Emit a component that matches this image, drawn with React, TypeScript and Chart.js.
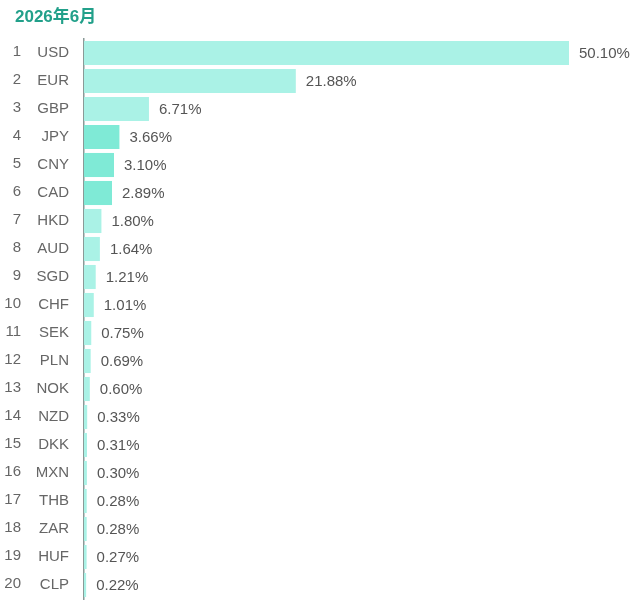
import React, { useEffect, useRef } from "react";
import { Chart, registerables } from "chart.js";

Chart.register(...registerables);

const titleText = "2026年6月";
const ranks = ["1","2","3","4","5","6","7","8","9","10","11","12","13","14","15","16","17","18","19","20"];
const currencies = ["USD","EUR","GBP","JPY","CNY","CAD","HKD","AUD","SGD","CHF","SEK","PLN","NOK","NZD","DKK","MXN","THB","ZAR","HUF","CLP"];
const shares = [50.10,21.88,6.71,3.66,3.10,2.89,1.80,1.64,1.21,1.01,0.75,0.69,0.60,0.33,0.31,0.30,0.28,0.28,0.27,0.22];
const highlighted = ["JPY","CNY","CAD"];

const FONT = "'Liberation Sans', Arial, 'Noto Sans CJK SC', sans-serif";

export default function App() {
  const ref = useRef<HTMLCanvasElement | null>(null);
  useEffect(() => {
    document.body.style.margin = "0";
    const canvas = ref.current;
    if (!canvas) return;
    const overlay = {
      id: "overlay",
      afterDatasetsDraw(chart: any) {
        const ctx = chart.ctx;
        const meta = chart.getDatasetMeta(0);
        const yScale = chart.scales.y;
        ctx.save();
        ctx.font = `15px ${FONT}`;
        ctx.fillStyle = "#555555";
        ctx.textBaseline = "middle";
        ctx.textAlign = "left";
        meta.data.forEach((bar: any, i: number) => {
          ctx.fillText(shares[i].toFixed(2) + "%", bar.x + 10, bar.y + 1);
        });
        ctx.fillStyle = "#666666";
        ctx.textAlign = "right";
        ranks.forEach((r, i) => {
          ctx.fillText(r, 21, yScale.getPixelForValue(i) - 1);
        });
        ctx.font = `bold 17px ${FONT}`;
        ctx.fillStyle = "#22a08a";
        ctx.textAlign = "left";
        ctx.fillText(titleText, 15, 17);
        ctx.restore();
      },
    };
    const chart = new Chart(canvas, {
      type: "bar",
      data: {
        labels: currencies,
        datasets: [
          {
            data: shares,
            backgroundColor: currencies.map((c) => (highlighted.includes(c) ? "#7fead6" : "#aaf2e6")),
            borderWidth: 0,
            barPercentage: 0.86,
            categoryPercentage: 1,
          },
        ],
      },
      options: {
        indexAxis: "y",
        animation: false,
        responsive: false,
        devicePixelRatio: 1,
        layout: { padding: { top: 39, right: 71, bottom: 4, left: 0 } },
        plugins: { legend: { display: false }, tooltip: { enabled: false }, title: { display: false } },
        scales: {
          x: {
            display: false,
            min: 0,
            max: 50.1,
          },
          y: {
            grid: { display: false, drawTicks: false },
            border: { display: true, color: "#8a9a97", width: 1.5 },
            ticks: {
              color: "#666666",
              font: { size: 15, family: FONT },
              padding: 15,
            },
            afterFit(scale: any) {
              scale.width = 84;
              scale.paddingTop = 0;
              scale.paddingBottom = 0;
            },
          },
        },
      },
      plugins: [overlay],
    });
    return () => chart.destroy();
  }, []);
  return (
    <div style={{ width: 640, height: 603 }}>
      <canvas ref={ref} width={640} height={603} style={{ display: "block" }} />
    </div>
  );
}
